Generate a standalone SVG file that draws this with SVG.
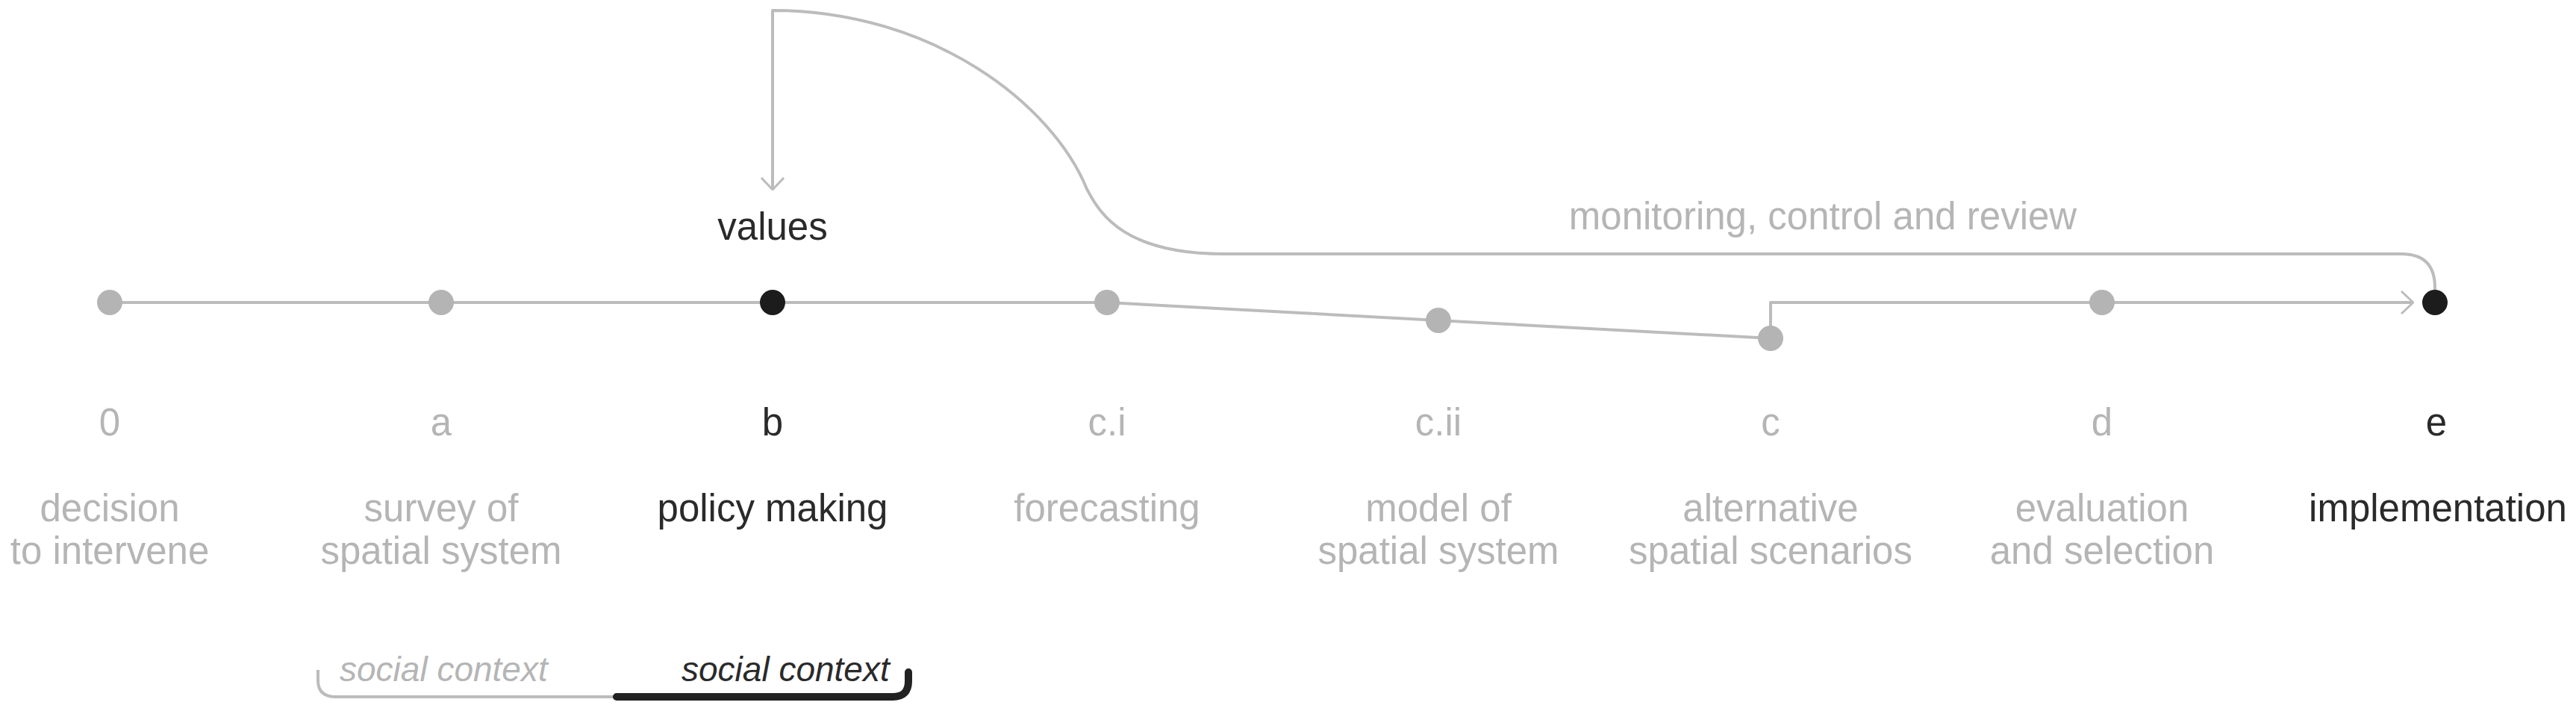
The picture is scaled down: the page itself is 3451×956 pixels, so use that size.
<svg xmlns="http://www.w3.org/2000/svg" width="3451" height="956" viewBox="0 0 3451 956">
<style>
text{font-family:"Liberation Sans",Arial,sans-serif;font-size:51px;text-anchor:middle}
.g{fill:#b5b5b5}
.k{fill:#2a2a2a}
.ln{fill:none;stroke:#bcbcbc;stroke-width:4;stroke-linejoin:round}
.dg{fill:#b4b4b4}
.dk{fill:#1c1c1c}
.it{font-style:italic;font-size:46px;text-anchor:start}
</style>
<defs>
<marker id="chev" viewBox="0 0 18 32" refX="17" refY="16" markerWidth="18" markerHeight="32" markerUnits="userSpaceOnUse" orient="auto">
<path d="M1,1 L17,16 L1,31" fill="none" stroke="#bcbcbc" stroke-width="3"/>
</marker>
</defs>
<rect width="3451" height="956" fill="#ffffff"/>
<g id="connectors">
<polyline class="ln" points="147,405 1483,405 2372,453"/>
<path class="ln" d="M2372,453 L2372,405 L3233,405" marker-end="url(#chev)"/>
<path class="ln" d="M3262,390 L3262,385 Q3262,340 3217,340 L1640,340 C1510,340 1475,290 1456,253 C1410,140 1250,14 1035,14 L1035,254" marker-end="url(#chev)"/>
</g>
<g id="node-0"><circle class="dg" cx="147" cy="405" r="17"/><text class="g" x="147" y="583">0</text><text class="g" x="147" y="698">decision</text><text class="g" x="147" y="755">to intervene</text></g>
<g id="node-a"><circle class="dg" cx="591" cy="405" r="17"/><text class="g" x="591" y="583">a</text><text class="g" x="591" y="698">survey of</text><text class="g" x="591" y="755">spatial system</text></g>
<g id="node-b"><circle class="dk" cx="1035" cy="405" r="17"/><text class="k" x="1035" y="583">b</text><text class="k" x="1035" y="698">policy making</text></g>
<g id="node-ci"><circle class="dg" cx="1483" cy="405" r="17"/><text class="g" x="1483" y="583">c.i</text><text class="g" x="1483" y="698">forecasting</text></g>
<g id="node-cii"><circle class="dg" cx="1927" cy="429" r="17"/><text class="g" x="1927" y="583">c.ii</text><text class="g" x="1927" y="698">model of</text><text class="g" x="1927" y="755">spatial system</text></g>
<g id="node-c"><circle class="dg" cx="2372" cy="453" r="17"/><text class="g" x="2372" y="583">c</text><text class="g" x="2372" y="698">alternative</text><text class="g" x="2372" y="755">spatial scenarios</text></g>
<g id="node-d"><circle class="dg" cx="2816" cy="405" r="17"/><text class="g" x="2816" y="583">d</text><text class="g" x="2816" y="698">evaluation</text><text class="g" x="2816" y="755">and selection</text></g>
<g id="node-e"><circle class="dk" cx="3262" cy="405" r="17"/><text class="k" x="3264" y="583">e</text><text class="k" x="3266" y="698">implementation</text></g>
<g id="values"><text class="k" x="1035" y="321">values</text></g>
<g id="monitoring"><text class="g" x="2442" y="307">monitoring, control and review</text></g>
<g id="social-context">
<path d="M426,897 L426,911 Q426,933 450,933 L826,933" fill="none" stroke="#bcbcbc" stroke-width="4"/>
<path d="M826,933 L1196,933 Q1217,933 1217,912 L1217,900" fill="none" stroke="#222222" stroke-width="10" stroke-linecap="round"/>
<text class="g it" x="455" y="912">social context</text>
<text class="k it" x="913" y="912">social context</text>
</g>
</svg>
